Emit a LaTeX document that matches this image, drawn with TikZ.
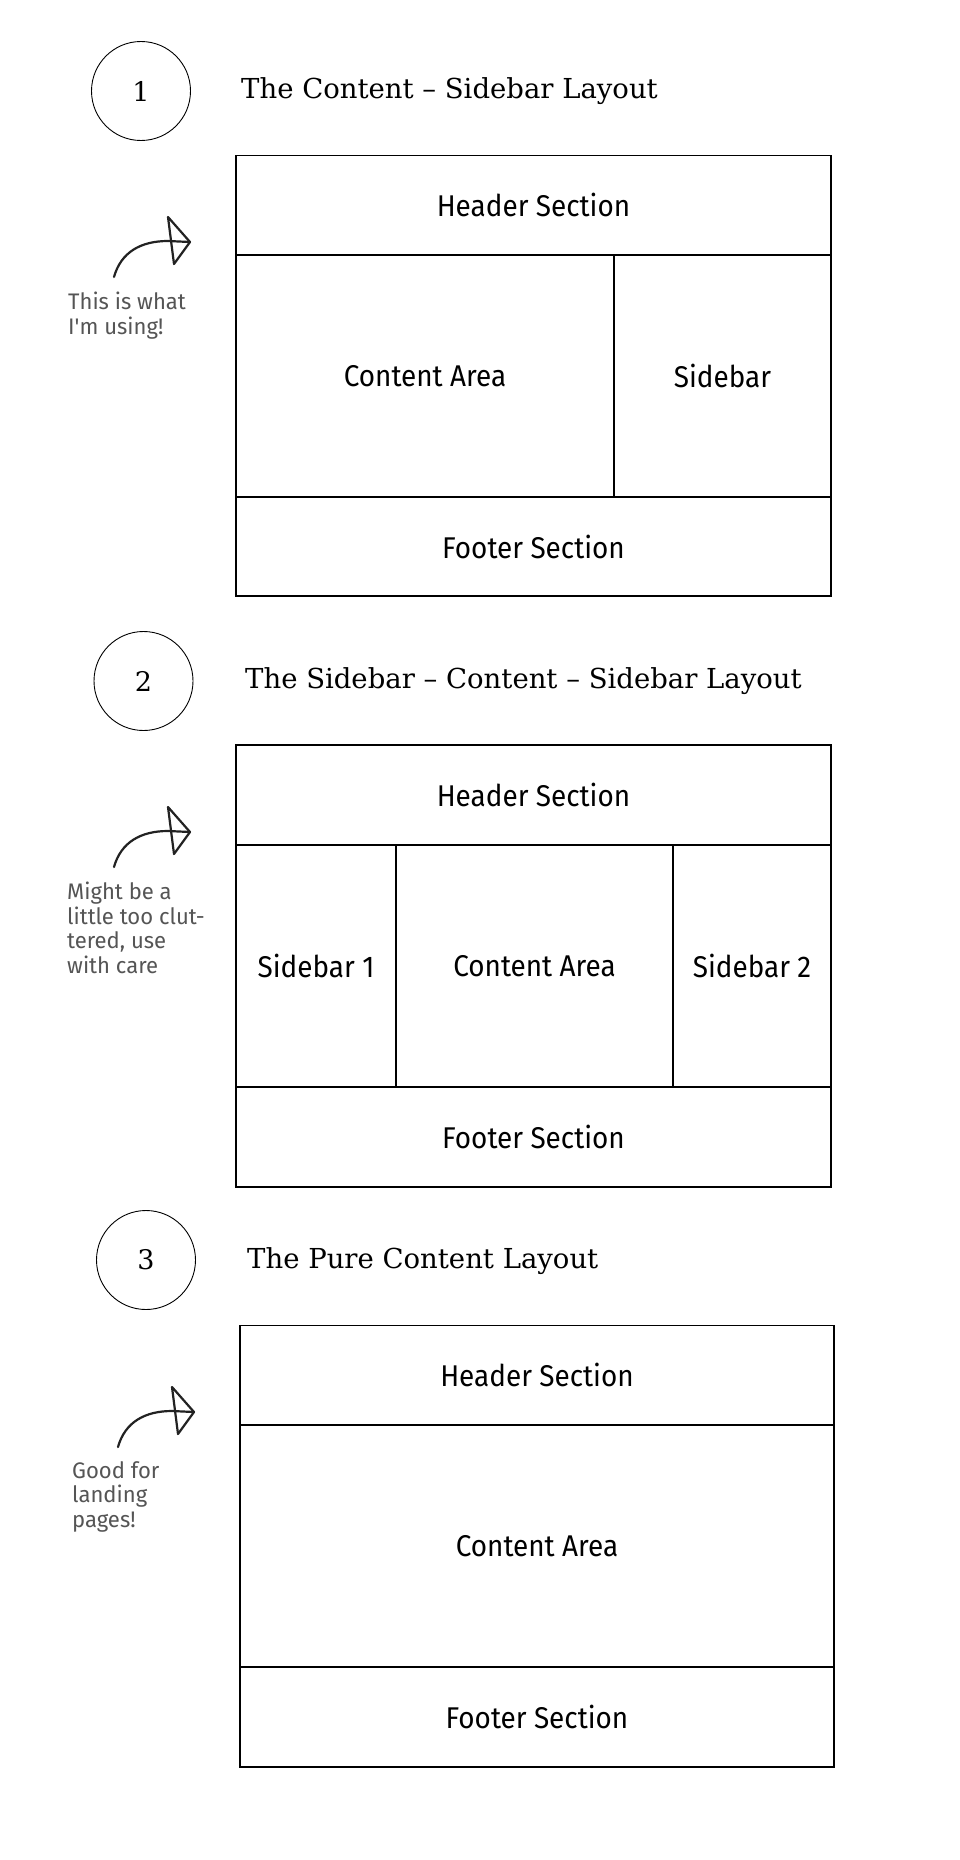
\documentclass[tikz,border=0pt]{standalone}
\usepackage{fontspec}
\setmainfont{DejaVu Serif}
\newfontfamily\labelfont{Fira Sans}[FakeStretch=0.93]
\newfontfamily\notefont{Fira Sans}[FakeStretch=0.98]
\definecolor{notegray}{HTML}{555555}
\definecolor{inkdark}{HTML}{222222}
\begin{document}
\begin{tikzpicture}[x=1pt,y=-1pt,
  cell/.style={draw, line width=1.4pt, anchor=north west, inner sep=0pt, outer sep=0pt,
    font=\labelfont\fontsize{30}{32}\selectfont},
  numcircle/.style={draw, circle, line width=0.9pt, minimum size=99pt, inner sep=0pt,
    font=\fontsize{27}{27}\selectfont},
  title/.style={anchor=base west, inner sep=0pt, font=\fontsize{27.5}{30}\selectfont},
  note/.style={anchor=north west, inner sep=0pt, align=left, text=notegray,
    font=\notefont\fontsize{22.5}{24.5}\selectfont},
  doodle/.style={draw=inkdark, line width=2.2pt, line cap=round, line join=round}
]
\useasboundingbox (0,0) rectangle (960,1860);
\fill[white] (0,0) rectangle (960,1860);

% ---------- Section 1 ----------
\node[numcircle] (c1) at (141,91) {1};
\node[title] (t1) at (241,98.5) {The Content – Sidebar Layout};
\node[cell, minimum width=595pt, minimum height=99.5pt] (h1) at (236,155.5) {Header Section};
\node[cell, minimum width=378pt, minimum height=242pt] (m1) at (236,255) {Content Area};
\node[cell, minimum width=217pt, minimum height=242pt] (s1) at (614,255) {Sidebar};
\node[cell, minimum width=595pt, minimum height=99pt] (f1) at (236,497) {Footer Section};
\begin{scope}
  \draw[doodle] (114,277) .. controls (121,252) and (141,241) .. (168,241) -- (190,242);
  \draw[doodle] (168,217) -- (190,242) -- (174,264) -- cycle;
\end{scope}
\node[note] (n1) at (68,292) {This is what\\I'm using!};

% ---------- Section 2 ----------
\node[numcircle] (c2) at (143.5,681) {2};
\node[title] (t2) at (245,688.5) {The Sidebar – Content – Sidebar Layout};
\node[cell, minimum width=595pt, minimum height=100pt] (h2) at (236,745) {Header Section};
\node[cell, minimum width=160pt, minimum height=242pt] (sa2) at (236,845) {Sidebar 1};
\node[cell, minimum width=277pt, minimum height=242pt] (m2) at (396,845) {Content Area};
\node[cell, minimum width=158pt, minimum height=242pt] (sb2) at (673,845) {Sidebar 2};
\node[cell, minimum width=595pt, minimum height=100pt] (f2) at (236,1087) {Footer Section};
\begin{scope}[shift={(0,590)}]
  \draw[doodle] (114,277) .. controls (121,252) and (141,241) .. (168,241) -- (190,242);
  \draw[doodle] (168,217) -- (190,242) -- (174,264) -- cycle;
\end{scope}
\node[note] (n2) at (67,882) {Might be a\\little too clut-\\tered, use\\with care};

% ---------- Section 3 ----------
\node[numcircle] (c3) at (146,1260) {3};
\node[title] (t3) at (247,1268) {The Pure Content Layout};
\node[cell, minimum width=594pt, minimum height=99.5pt] (h3) at (240,1325.5) {Header Section};
\node[cell, minimum width=594pt, minimum height=242pt] (m3) at (240,1425) {Content Area};
\node[cell, minimum width=594pt, minimum height=100pt] (f3) at (240,1667) {Footer Section};
\begin{scope}[shift={(4,1170)}]
  \draw[doodle] (114,277) .. controls (121,252) and (141,241) .. (168,241) -- (190,242);
  \draw[doodle] (168,217) -- (190,242) -- (174,264) -- cycle;
\end{scope}
\node[note] (n3) at (72,1461) {Good for\\landing\\pages!};
\end{tikzpicture}
\end{document}
